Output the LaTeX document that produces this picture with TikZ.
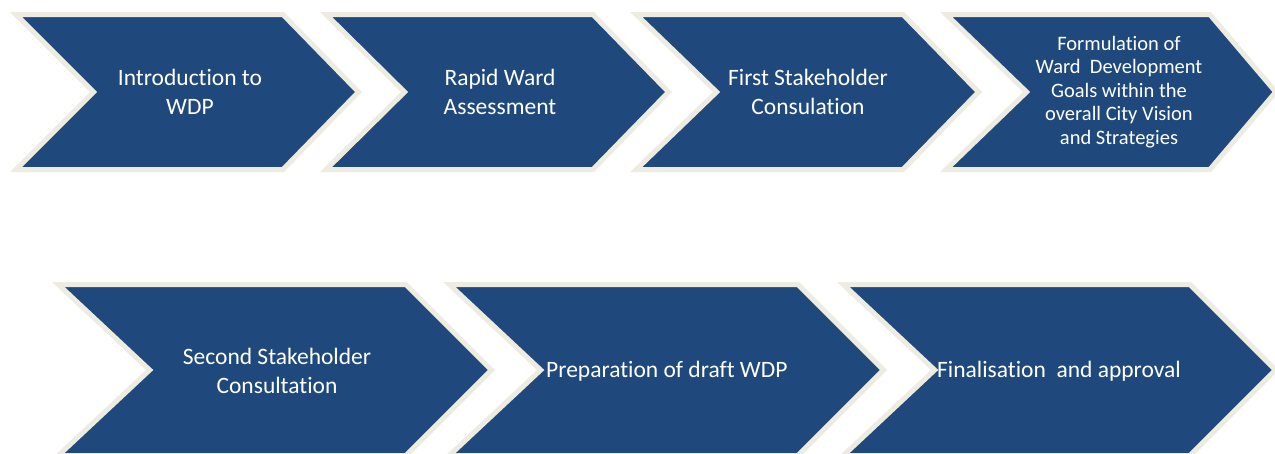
\documentclass[tikz,border=0pt]{standalone}
\usepackage{fontspec}
\setmainfont{Carlito}[Ligatures=NoCommon]
\definecolor{chevblue}{HTML}{1F497D}
\definecolor{chevrim}{HTML}{EEECE1}
\tikzset{
  chevshape/.style={fill=chevblue, draw=chevrim, line width=5pt, line join=miter, miter limit=10},
  chevtext/.style={text=white, font=\fontsize{23.5}{28.5}\selectfont, align=center, inner sep=0pt},
  chevsmall/.style={text=white, font=\fontsize{20.5}{23.5}\selectfont, align=center, inner sep=0pt}
}
% #1 x0, #2 tip X, #3 top, #4 bottom, #5 left depth, #6 right depth
\newcommand\mychevron[6]{%
  \pgfmathsetmacro\hh{(#4-#3)/2}%
  \pgfmathsetmacro\mm{(#4+#3)/2}%
  \pgfmathsetmacro\kl{sqrt(1+(#5/\hh)^2)}%
  \pgfmathsetmacro\kr{sqrt(1+(#6/\hh)^2)}%
  \pgfmathsetmacro\ty{#3+2.5}%
  \pgfmathsetmacro\by{#4-2.5}%
  \pgfmathsetmacro\tipx{#2-2.5*\kr}%
  \pgfmathsetmacro\trx{#2-2.5*\kr-#6+(#6/\hh)*2.5}%
  \pgfmathsetmacro\tlx{#1+2.5*\kl+(#5/\hh)*2.5}%
  \pgfmathsetmacro\nx{#1+#5+2.5*\kl}%
  \draw[chevshape] (\tlx,\ty) -- (\trx,\ty) -- (\tipx,\mm) -- (\trx,\by) -- (\tlx,\by) -- (\nx,\mm) -- cycle;%
}
\begin{document}
\begin{tikzpicture}[x=1pt,y=-1pt]
  \useasboundingbox (0,0) rectangle (1275,453);
  \clip (0,0) rectangle (1275,453);
  \fill[white] (0,0) rectangle (1275,453);
  % row 1
  \mychevron{10}{362}{12}{172}{80}{78}
  \mychevron{320}{672}{12}{172}{81}{78}
  \mychevron{630}{982}{12}{172}{83}{78}
  \mychevron{940}{1279}{12}{172}{83}{68}
  % row 2
  \mychevron{52}{495}{282}{458}{94}{88}
  \mychevron{443}{887}{282}{458}{94}{88}
  \mychevron{837}{1279}{282}{458}{94}{88}
  % texts
  \node[chevtext] (t1) at (190,92) {Introduction to\\WDP};
  \node[chevtext] (t2) at (500,92) {Rapid Ward\\Assessment};
  \node[chevtext] (t3) at (808,92) {First Stakeholder\\Consulation};
  \node[chevsmall] (t4) at (1119,92) {Formulation of\\Ward\ \ Development\\Goals within the\\overall City Vision\\and Strategies};
  \node[chevtext] (t5) at (277,371) {Second Stakeholder\\Consultation};
  \node[chevtext, anchor=west] (t6) at (546,371) {Preparation of draft WDP};
  \node[chevtext, anchor=west] (t7) at (937,371) {Finalisation\ \ and approval};
\end{tikzpicture}
\end{document}
